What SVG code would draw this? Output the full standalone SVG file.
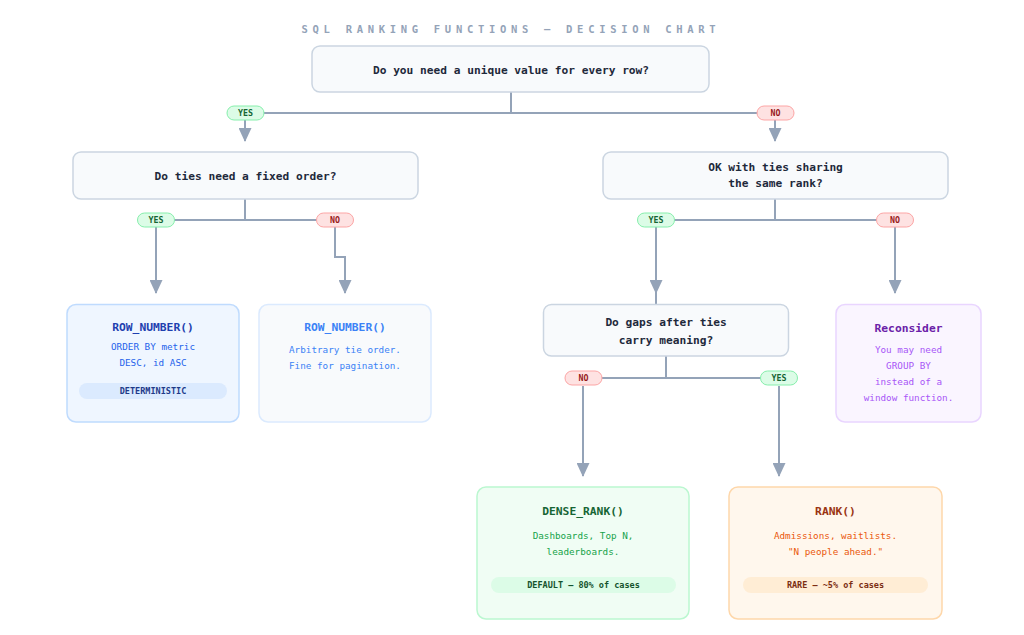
<svg xmlns="http://www.w3.org/2000/svg" width="1024" height="635" viewBox="0 0 1024 635">
<defs>
<marker id="arr" viewBox="0 0 14 13" markerWidth="14" markerHeight="13" refX="13" refY="6.5" orient="auto" markerUnits="userSpaceOnUse">
<path d="M0,0 L14,6.5 L0,13 z" fill="#94a3b8"/>
</marker>
<style>
text{font-family:"DejaVu Sans Mono","Liberation Mono",monospace;text-anchor:middle}
.title{font-size:10.5px;fill:#94a3b8;letter-spacing:4.7px;font-weight:bold}
.q rect{fill:#f8fafc;stroke:#cbd5e1;stroke-width:1.5}
.q text{font-size:11.2px;font-weight:600;fill:#1e293b}
.leaf rect.box{stroke-width:1.5}
.lt{font-size:11.3px;font-weight:bold}
.ld{font-size:9.3px}
.bd{font-size:8.5px;font-weight:bold}
.c{fill:none;stroke:#94a3b8;stroke-width:2}
.yes rect{fill:#dcfce7;stroke:#86efac;stroke-width:1}
.yes text{fill:#166534;font-size:8.3px;font-weight:bold}
.no rect{fill:#fee2e2;stroke:#fca5a5;stroke-width:1}
.no text{fill:#991b1b;font-size:8.3px;font-weight:bold}
</style>
</defs>
<rect width="1024" height="635" fill="#ffffff"/>
<text class="title" x="511" y="33">SQL RANKING FUNCTIONS — DECISION CHART</text>

<g id="connectors">
<path class="c" d="M511,92 V113 M245,113 H775"/>
<path class="c" d="M245,120 V141" marker-end="url(#arr)"/>
<path class="c" d="M775,120 V141" marker-end="url(#arr)"/>
<path class="c" d="M245,199 V220 M156,220 H335"/>
<path class="c" d="M156,227 V293" marker-end="url(#arr)"/>
<path class="c" d="M335,227 V257 H345 V293" marker-end="url(#arr)"/>
<path class="c" d="M775,199 V220 M656,220 H895"/>
<path class="c" d="M656,227 V304"/>
<path class="c" d="M656,227 V293" marker-end="url(#arr)"/>
<path class="c" d="M895,227 V293" marker-end="url(#arr)"/>
<path class="c" d="M666,356 V378 M583,378 H779"/>
<path class="c" d="M583,386 V476" marker-end="url(#arr)"/>
<path class="c" d="M779,386 V476" marker-end="url(#arr)"/>
<g class="yes"><rect x="227" y="106" width="37" height="14" rx="7"/><text x="245.5" y="116">YES</text></g>
<g class="no"><rect x="757" y="106" width="37" height="14" rx="7"/><text x="775.5" y="116">NO</text></g>
<g class="yes"><rect x="137.5" y="213" width="37" height="14" rx="7"/><text x="156" y="223">YES</text></g>
<g class="no"><rect x="316.5" y="213" width="37" height="14" rx="7"/><text x="335" y="223">NO</text></g>
<g class="yes"><rect x="637.5" y="213" width="37" height="14" rx="7"/><text x="656" y="223">YES</text></g>
<g class="no"><rect x="876.5" y="213" width="37" height="14" rx="7"/><text x="895" y="223">NO</text></g>
<g class="no"><rect x="565" y="371" width="37" height="14" rx="7"/><text x="583.5" y="381">NO</text></g>
<g class="yes"><rect x="760.5" y="371" width="37" height="14" rx="7"/><text x="779" y="381">YES</text></g>
</g>

<g id="q-unique" class="q">
<rect x="312" y="46" width="397" height="46" rx="8"/>
<text x="511" y="73.5">Do you need a unique value for every row?</text>
</g>
<g id="q-fixed-order" class="q">
<rect x="73" y="152" width="345" height="47" rx="8"/>
<text x="245.5" y="180">Do ties need a fixed order?</text>
</g>
<g id="q-ties-share" class="q">
<rect x="603" y="152" width="345" height="47" rx="8"/>
<text x="775.5" y="171">OK with ties sharing</text>
<text x="775.5" y="187">the same rank?</text>
</g>
<g id="q-gaps" class="q">
<rect x="543.5" y="304.5" width="245" height="51.5" rx="8"/>
<text x="666" y="326">Do gaps after ties</text>
<text x="666" y="344">carry meaning?</text>
</g>

<g id="leaf-rownumber-det" class="leaf">
<rect class="box" x="67" y="304.5" width="172" height="117.5" rx="9" fill="#eff6ff" stroke="#bfdbfe"/>
<text class="lt" x="153" y="331" fill="#1e40af">ROW_NUMBER()</text>
<text class="ld" x="153" y="350" fill="#2563eb">ORDER BY metric</text>
<text class="ld" x="153" y="365.5" fill="#2563eb">DESC, id ASC</text>
<rect x="79" y="383" width="148" height="16" rx="8" fill="#dbeafe"/>
<text class="bd" x="153" y="394" fill="#1e3a8a">DETERMINISTIC</text>
</g>
<g id="leaf-rownumber-arb" class="leaf">
<rect class="box" x="259" y="304.5" width="172" height="117.5" rx="9" fill="#f8fafc" stroke="#dbeafe"/>
<text class="lt" x="345" y="331" fill="#3b82f6">ROW_NUMBER()</text>
<text class="ld" x="345" y="353" fill="#3b82f6">Arbitrary tie order.</text>
<text class="ld" x="345" y="369" fill="#3b82f6">Fine for pagination.</text>
</g>
<g id="leaf-reconsider" class="leaf">
<rect class="box" x="836" y="304.5" width="145" height="117.5" rx="9" fill="#faf5ff" stroke="#e9d5ff"/>
<text class="lt" x="908.5" y="332" fill="#6b21a8">Reconsider</text>
<text class="ld" x="908.5" y="353" fill="#a855f7">You may need</text>
<text class="ld" x="908.5" y="369" fill="#a855f7">GROUP BY</text>
<text class="ld" x="908.5" y="385" fill="#a855f7">instead of a</text>
<text class="ld" x="908.5" y="401" fill="#a855f7">window function.</text>
</g>
<g id="leaf-dense-rank" class="leaf">
<rect class="box" x="477" y="487" width="212" height="132" rx="9" fill="#f0fdf4" stroke="#bbf7d0"/>
<text class="lt" x="583" y="515" fill="#166534">DENSE_RANK()</text>
<text class="ld" x="583" y="539" fill="#16a34a">Dashboards, Top N,</text>
<text class="ld" x="583" y="555" fill="#16a34a">leaderboards.</text>
<rect x="491" y="577" width="185" height="16" rx="8" fill="#dcfce7"/>
<text class="bd" x="583.5" y="588" fill="#14532d">DEFAULT — 80% of cases</text>
</g>
<g id="leaf-rank" class="leaf">
<rect class="box" x="729" y="487" width="213" height="132" rx="9" fill="#fff7ed" stroke="#fed7aa"/>
<text class="lt" x="835.5" y="515" fill="#9a3412">RANK()</text>
<text class="ld" x="835.5" y="539" fill="#ea580c">Admissions, waitlists.</text>
<text class="ld" x="835.5" y="555" fill="#ea580c">"N people ahead."</text>
<rect x="743" y="577" width="185" height="16" rx="8" fill="#ffedd5"/>
<text class="bd" x="835.5" y="588" fill="#7c2d12">RARE — ~5% of cases</text>
</g>
</svg>
